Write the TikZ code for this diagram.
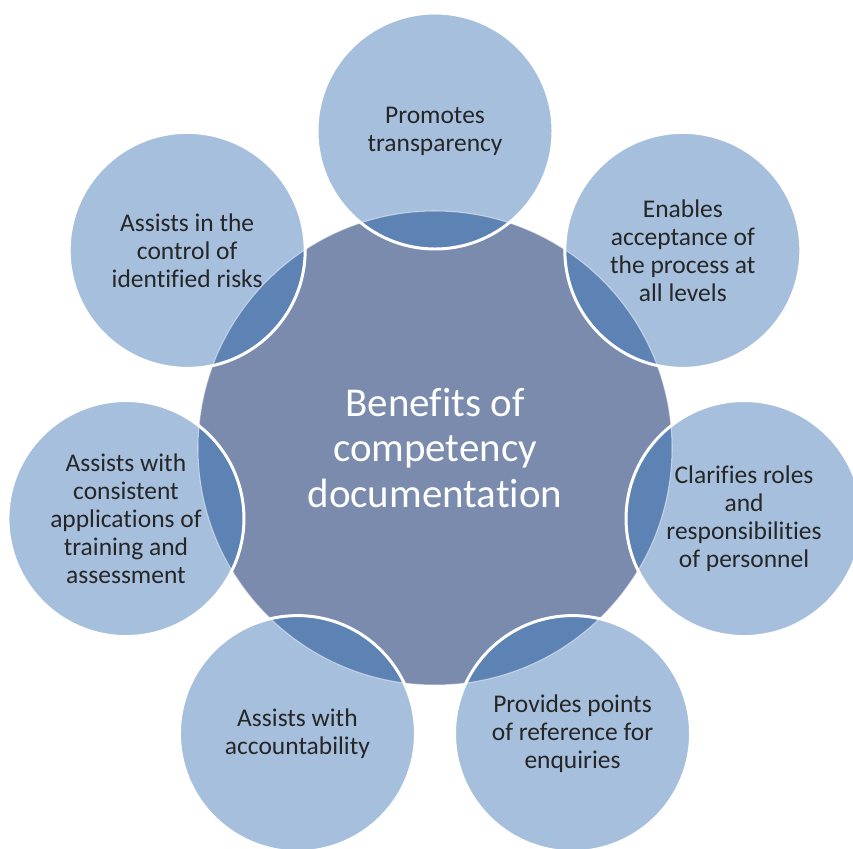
\documentclass[tikz,border=0pt]{standalone}
\usepackage{fontspec}
\setmainfont{Carlito}[Ligatures=NoCommon]
\definecolor{petalblue}{HTML}{A5BFDD}
\definecolor{hubblue}{HTML}{7A8BAD}
\definecolor{overlapblue}{HTML}{5D82B4}
\definecolor{inkgrey}{HTML}{262626}

\begin{document}
\begin{tikzpicture}[
    hub/.style={circle, fill=hubblue, minimum size=9.48cm, inner sep=0pt, align=center,
      text=white, font=\fontsize{23.3}{25.9}\selectfont},
    petal/.style={circle, draw=white, line width=1.7pt, minimum size=4.72cm, inner sep=0pt,
      align=center, text=inkgrey, font=\fontsize{14.5}{15.9}\selectfont}]
  \useasboundingbox (-8.70,-8.00) rectangle (8.36,8.96);
%  \fill[white] (-8.70,-8.00) rectangle (8.36,8.96);
  \node[hub] (hub) at (0,0) {Benefits of\\competency\\documentation};
  \foreach \i in {0,...,6}
    \fill[petalblue] ({90-\i*360/7}:6.34cm) circle (2.36cm);
  \begin{scope}
    \clip (hub.center) circle (4.74cm);
    \foreach \i in {0,...,6}
      \fill[overlapblue] ({90-\i*360/7}:6.34cm) circle (2.36cm);
  \end{scope}
  \draw[white, opacity=.5, line width=.6pt] (hub.center) circle (4.74cm);
  \foreach \txt [count=\i from 0] in {
      {Promotes\\transparency},
      {Enables\\acceptance of\\the process at\\all levels},
      {Clarifies roles\\and\\responsibilities\\of personnel},
      {Provides points\\of reference for\\enquiries},
      {Assists with\\accountability},
      {Assists with\\consistent\\applications of\\training and\\assessment},
      {Assists in the\\control of\\identified risks}}
    \node[petal] (p\i) at ({90-\i*360/7}:6.34cm) {\txt};
\end{tikzpicture}
\end{document}
